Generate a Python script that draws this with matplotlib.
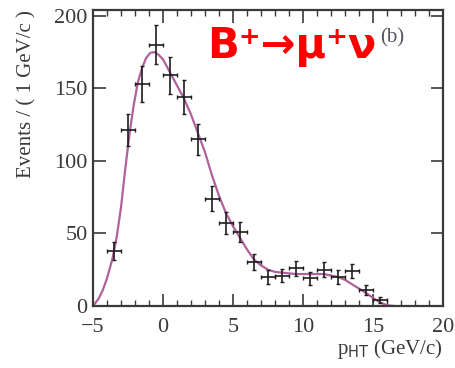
import matplotlib
matplotlib.use("Agg")
import matplotlib.pyplot as plt
from matplotlib.ticker import MultipleLocator

# binned data (1 GeV/c bins)
bin_x = [-3.5, -2.5, -1.5, -0.5, 0.5, 1.5, 2.5, 3.5, 4.5, 5.5, 6.5, 7.5,
         8.5, 9.5, 10.5, 11.5, 12.5, 13.5, 14.5, 15.5]
counts = [38, 121, 153, 180, 159, 144, 115, 74, 57, 51, 30, 20,
          21, 26, 19, 25, 20, 24, 11, 4]
errs = [6.2, 11.0, 12.4, 13.4, 12.6, 12.0, 10.7, 8.6, 7.5, 7.1, 5.5, 4.5,
        4.6, 5.1, 4.4, 5.0, 4.5, 4.9, 3.3, 2.0]

# fitted curve
fit_x = [-5, -4.6, -4.3, -4.0, -3.6, -3.3, -3.0, -2.7, -2.4, -2.1, -1.8, -1.5,
         -1.2, -0.9, -0.6, -0.3, 0.0, 0.5, 1.0, 1.5, 2.0, 2.5, 3.0, 3.5, 4.0,
         4.5, 5.0, 5.5, 6.0, 6.5, 7.0, 7.5, 8.0, 8.5, 9.0, 9.5, 10.0, 10.5,
         11.0, 11.5, 12.0, 12.5, 13.0, 13.5, 14.0, 14.5, 15.0, 15.5, 16.0, 16.5]
fit_y = [0, 5, 11, 19, 33, 48, 68, 94, 118, 138, 154, 164,
         171, 174.5, 175, 173, 170, 161, 152, 143, 132, 119, 106, 90, 76,
         64, 55, 47, 39, 32, 28, 25, 23.5, 23, 22.5, 22, 22, 22,
         22, 22, 21, 20, 18, 15, 12, 9, 5.5, 2.5, 0.5, 0]

serif = "Liberation Serif"
grey = "#3a3a3a"

fig = plt.figure(figsize=(4.55, 3.68), dpi=100)
ax = fig.add_axes([0.2044, 0.1685, 0.7692, 0.8043])

ax.plot(fit_x, fit_y, color="#b0619c", lw=1.6, zorder=2)
ax.errorbar(bin_x, counts, yerr=errs, xerr=0.5, fmt="none", ecolor="#1e1e1e",
            elinewidth=1.2, capsize=1.5, capthick=1.0, zorder=3)

ax.set_xlim(-5, 20)
ax.set_ylim(0, 204)
ax.xaxis.set_major_locator(MultipleLocator(5))
ax.xaxis.set_minor_locator(MultipleLocator(1))
ax.yaxis.set_major_locator(MultipleLocator(50))
ax.tick_params(which="both", direction="in", top=True, right=True, color=grey)
ax.tick_params(which="major", length=9, width=1.2, labelsize=16, labelcolor=grey)
ax.tick_params(which="minor", length=4, width=1.0)
ax.tick_params(axis="x", pad=9)
ax.tick_params(axis="y", pad=4)
for lab in ax.get_xticklabels() + ax.get_yticklabels():
    lab.set_family(serif)
for s in ax.spines.values():
    s.set_color(grey)
    s.set_linewidth(1.6)

ax.set_ylabel("Events / ( 1 GeV/c )", family=serif, fontsize=15, color=grey, loc="top", labelpad=13)
ax.set_xlabel(r"p$_{\rm HT}$ (GeV/c)", family=serif, fontsize=15, color=grey, loc="right", labelpad=0)

ax.text(0.326, 0.838, "B⁺→μ⁺ν", transform=ax.transAxes, color="red", fontsize=30,
        fontweight="bold", family="DejaVu Sans", va="baseline")
ax.text(0.82, 0.89, "(b)", transform=ax.transAxes, color="#555566", fontsize=15,
        family=serif, va="baseline")

plt.savefig("out.png", dpi=100)
